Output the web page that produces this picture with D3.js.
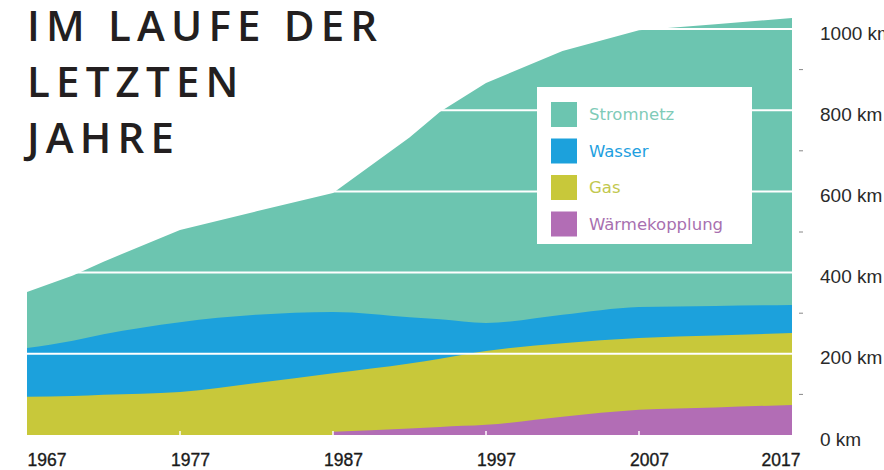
<!DOCTYPE html>
<html>
<head>
<meta charset="utf-8">
<script src="https://cdn.jsdelivr.net/npm/d3@7"></script>
<style>
  html, body { margin: 0; padding: 0; background: #fff; }
  svg { display: block; }
</style>
</head>
<body>
<svg id="chart" width="884" height="470"></svg>
<script>
// ---- data ----
const titleLines = ["IM LAUFE DER", "LETZTEN", "JAHRE"];
const years = [1967, 1970, 1972, 1977, 1982, 1987, 1992, 1994, 1997, 2002, 2007, 2012, 2017];
const stromnetz = [138, 161, 179, 227, 255, 293, 443, 511, 591, 650, 682, 694, 707];
const wasser = [120, 136, 149, 172, 168, 151, 114, 97, 69, 70, 76, 73, 69];
const gas = [94, 96, 99, 106, 128, 144, 160, 168, 182, 181, 177, 177, 177];
const waermekopplung = [null, null, null, null, null, 8, 16, 20, 25, 45, 62, 68, 74];
const seriesNames = ["Wärmekopplung", "Gas", "Wasser", "Stromnetz"];
const legendNames = ["Stromnetz", "Wasser", "Gas", "Wärmekopplung"];
const xTickYears = [1967, 1977, 1987, 1997, 2007, 2017];
const yTicks = [0, 200, 400, 600, 800, 1000];
const yMinorTicks = [100, 300, 500, 700, 900];

const colors = {
  "Stromnetz": "#6cc5b0",
  "Wasser": "#1ca1dc",
  "Gas": "#c8c83a",
  "Wärmekopplung": "#b26db5"
};
const textColors = {
  "Stromnetz": "#7fcbb8",
  "Wasser": "#1f9fe0",
  "Gas": "#c2c84e",
  "Wärmekopplung": "#a870b0"
};

const rows = years.map((yr, i) => ({
  year: yr,
  "Wärmekopplung": waermekopplung[i],
  "Gas": gas[i],
  "Wasser": wasser[i],
  "Stromnetz": stromnetz[i]
}));

const svg = d3.select("#chart");

const x = d3.scaleLinear().domain([1967, 2017]).range([27, 792]);
const y = d3.scaleLinear().domain([0, 1000]).range([435, 29]);

const stack = d3.stack().keys(seriesNames).value((d, k) => d[k] == null ? 0 : d[k]);
const layers = stack(rows);

// draw from baseline up to each cumulative top, top layer first
const layerG = svg.append("g");
layers.slice().reverse().forEach(layer => {
  const key = layer.key;
  const area = d3.area()
    .x(d => x(d.data.year))
    .y0(y(0))
    .y1(d => y(d[1]))
    .defined(d => d.data[key] != null)
    .curve(key === "Stromnetz" ? d3.curveLinear : d3.curveMonotoneX);
  layerG.append("path")
    .datum(layer)
    .attr("fill", colors[key])
    .attr("d", area);
});

// white gridlines
svg.append("g").selectAll("line")
  .data(yTicks.filter(d => d > 0))
  .join("line")
  .attr("x1", x(1967)).attr("x2", x(2017))
  .attr("y1", d => y(d)).attr("y2", d => y(d))
  .attr("stroke", "#fff").attr("stroke-width", 2);

// white tick notches at bottom
svg.append("g").selectAll("line")
  .data(xTickYears.slice(1, -1))
  .join("line")
  .attr("x1", d => x(d)).attr("x2", d => x(d))
  .attr("y1", y(0)).attr("y2", y(0) - 4)
  .attr("stroke", "#fff").attr("stroke-width", 1.5);

// minor dashes on the right
svg.append("g").selectAll("line")
  .data(yMinorTicks)
  .join("line")
  .attr("x1", 799).attr("x2", 803)
  .attr("y1", d => y(d)).attr("y2", d => y(d))
  .attr("stroke", "#888").attr("stroke-width", 1);

// x axis labels
const xAxis = d3.axisBottom(x).tickValues(xTickYears).tickSize(0).tickFormat(d3.format("d"));
const xg = svg.append("g").attr("transform", "translate(0,466)").call(xAxis);
xg.select(".domain").remove();
xg.selectAll("text")
  .attr("y", 0).attr("dy", 0)
  .attr("font-family", "'Liberation Sans', Arial, sans-serif")
  .attr("font-size", 17.5)
  .attr("fill", "#1a1a1a")
  .attr("stroke", "#1a1a1a")
  .attr("stroke-width", 0.35)
  .attr("text-anchor", (d, i) => i === 0 ? "start" : (i === xTickYears.length - 1 ? "end" : "middle"))
  .attr("dx", (d, i) => i === 0 ? 0 : (i === xTickYears.length - 1 ? 8 : 10));

// y axis labels
const yAxis = d3.axisRight(y).tickValues(yTicks).tickSize(0).tickFormat(d => d + " km");
const yg = svg.append("g").attr("transform", "translate(820,0)").call(yAxis);
yg.select(".domain").remove();
yg.selectAll("text")
  .attr("x", 0).attr("dy", 0).attr("y", 10)
  .attr("font-family", "'Liberation Sans', Arial, sans-serif")
  .attr("font-size", 19)
  .attr("fill", "#2a2a2a")
  .attr("text-anchor", "start");

// legend
const lg = svg.append("g").attr("transform", "translate(537,87)");
lg.append("rect").attr("width", 215).attr("height", 157).attr("fill", "#fff");
const li = lg.selectAll("g.item").data(legendNames).join("g")
  .attr("class", "item")
  .attr("transform", (d, i) => `translate(14,${15 + i * 36.5})`);
li.append("rect").attr("width", 26).attr("height", 25).attr("fill", d => colors[d]);
li.append("text")
  .attr("x", 38).attr("y", 18)
  .attr("font-family", "'DejaVu Sans', sans-serif")
  .attr("font-size", 16.5)
  .attr("fill", d => textColors[d])
  .text(d => d);

// title
svg.append("g").selectAll("text")
  .data(titleLines)
  .join("text")
  .attr("x", 27)
  .attr("y", (d, i) => 41 + i * 56)
  .attr("font-family", "'Open Sans', sans-serif")
  .attr("font-weight", 600)
  .attr("font-size", 42)
  .attr("letter-spacing", 6.2)
  .attr("fill", "#231f20")
  .text(d => d);
</script>
</body>
</html>
